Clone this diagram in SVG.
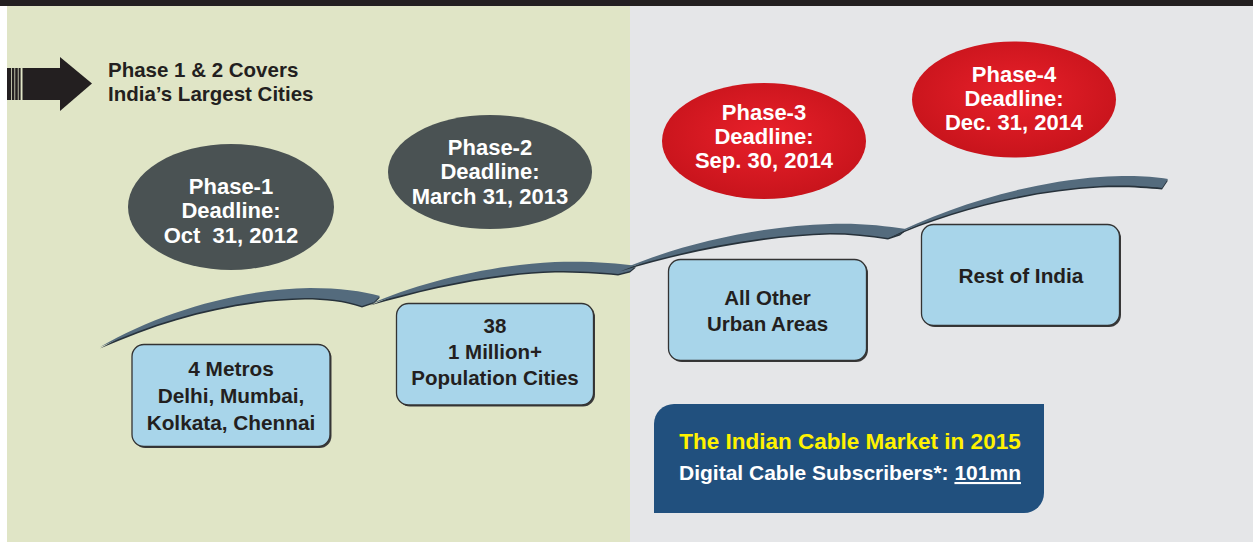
<svg xmlns="http://www.w3.org/2000/svg" width="1253" height="542" viewBox="0 0 1253 542">
<defs>
<radialGradient id="redg" cx="50%" cy="45%" r="55%">
<stop offset="0" stop-color="#e8202a"/>
<stop offset="1" stop-color="#c8141c"/>
</radialGradient>
<style>
.t{font-family:"Liberation Sans",Arial,Helvetica,sans-serif;font-weight:bold;text-anchor:middle}
.dk{fill:#231f20}
.wh{fill:#ffffff}
.ell{fill:#4a5253}
.red{fill:url(#redg)}
.box{fill:#a8d5ea;stroke:#333333;stroke-width:1.3}
.shd{fill:#3a3a3a}
.sw{fill:#546b7d}
.sws{fill:#27323b}
</style>
</defs>
<rect x="0" y="0" width="1253" height="542" fill="#ffffff"/>
<rect x="7" y="6" width="623" height="536" fill="#e0e5c6"/>
<rect x="630" y="6" width="623" height="536" fill="#e5e6e8"/>
<rect x="0" y="0" width="1253" height="6" fill="#231f20"/>

<g id="arrow">
<rect x="7" y="68" width="4" height="32" fill="#231f20"/>
<rect x="11.8" y="68" width="2.6" height="32" fill="#231f20"/>
<rect x="15.2" y="68" width="2.6" height="32" fill="#231f20"/>
<rect x="18.6" y="68" width="2" height="32" fill="#231f20"/>
<rect x="22.5" y="68" width="38.5" height="32" fill="#231f20"/>
<polygon points="60,57 92,83.5 60,111" fill="#231f20"/>
<text class="t dk" x="108" y="77" font-size="20.5" style="text-anchor:start">Phase 1 &amp; 2 Covers</text>
<text class="t dk" x="108" y="101" font-size="20.5" style="text-anchor:start">India’s Largest Cities</text>
</g>

<g id="connectors">
<path class="sws" transform="translate(0,1.6)" d="M100,347 C160,312 240,289 310,288 C340,288 362,291 380,296 L374,302 L362,306 C345,300 325,298 305,298 C235,299 165,318 100,347 Z"/>
<path class="sw" d="M100,347 C160,312 240,289 310,288 C340,288 362,291 380,296 L374,302 L362,306 C345,300 325,298 305,298 C235,299 165,318 100,347 Z"/>
<path class="sws" transform="translate(0,1.6)" d="M370,304 C420,282 490,265 555,262 C590,261 615,263 636,266 L630,271 L618,274 C600,272 578,271 555,271 C490,273 425,288 370,304 Z"/>
<path class="sw" d="M370,304 C420,282 490,265 555,262 C590,261 615,263 636,266 L630,271 L618,274 C600,272 578,271 555,271 C490,273 425,288 370,304 Z"/>
<path class="sws" transform="translate(0,1.6)" d="M620,270 C680,244 760,226 830,224 C860,223 885,226 906,229 L900,234 L888,238 C870,235 850,233 830,233 C760,235 685,250 620,270 Z"/>
<path class="sw" d="M620,270 C680,244 760,226 830,224 C860,223 885,226 906,229 L900,234 L888,238 C870,235 850,233 830,233 C760,235 685,250 620,270 Z"/>
<path class="sws" transform="translate(0,1.6)" d="M886,238 C950,205 1030,182 1100,177 C1130,175 1150,176 1168,179 L1162,188 C1145,186 1120,185 1100,186 C1030,190 955,208 886,238 Z"/>
<path class="sw" d="M886,238 C950,205 1030,182 1100,177 C1130,175 1150,176 1168,179 L1162,188 C1145,186 1120,185 1100,186 C1030,190 955,208 886,238 Z"/>
</g>

<g id="phase1">
<ellipse class="ell" cx="231" cy="207" rx="103" ry="63"/>
<text class="t wh" font-size="22"><tspan x="231" y="194">Phase-1</tspan><tspan x="231" y="218">Deadline:</tspan><tspan x="231" y="243" xml:space="preserve">Oct  31, 2012</tspan></text>
</g>
<g id="phase2">
<ellipse class="ell" cx="490" cy="172" rx="102" ry="57"/>
<text class="t wh" font-size="22"><tspan x="490" y="155">Phase-2</tspan><tspan x="490" y="179">Deadline:</tspan><tspan x="490" y="204">March 31, 2013</tspan></text>
</g>
<g id="phase3">
<ellipse class="red" cx="764" cy="141" rx="102" ry="58"/>
<text class="t wh" font-size="22"><tspan x="764" y="120">Phase-3</tspan><tspan x="764" y="144">Deadline:</tspan><tspan x="764" y="168">Sep. 30, 2014</tspan></text>
</g>
<g id="phase4">
<ellipse class="red" cx="1014" cy="99.5" rx="102" ry="58"/>
<text class="t wh" font-size="22"><tspan x="1014" y="82">Phase-4</tspan><tspan x="1014" y="106">Deadline:</tspan><tspan x="1014" y="130">Dec. 31, 2014</tspan></text>
</g>

<g id="metros">
<rect class="shd" x="133.5" y="346" width="198" height="102" rx="12"/>
<rect class="box" x="132" y="344.5" width="198" height="102" rx="12"/>
<text class="t dk" font-size="20.8"><tspan x="231" y="376">4 Metros</tspan><tspan x="231" y="403">Delhi, Mumbai,</tspan><tspan x="231" y="430">Kolkata, Chennai</tspan></text>
</g>
<g id="million">
<rect class="shd" x="398" y="305" width="197" height="101.5" rx="12"/>
<rect class="box" x="396.5" y="303.5" width="197" height="101.5" rx="12"/>
<text class="t dk" font-size="20.5"><tspan x="495" y="333">38</tspan><tspan x="495" y="359">1 Million+</tspan><tspan x="495" y="385">Population Cities</tspan></text>
</g>
<g id="urban">
<rect class="shd" x="670" y="261" width="198" height="101" rx="12"/>
<rect class="box" x="668.5" y="259.5" width="198" height="101" rx="12"/>
<text class="t dk" font-size="20.5"><tspan x="767.5" y="305">All Other</tspan><tspan x="767.5" y="331">Urban Areas</tspan></text>
</g>
<g id="rest">
<rect class="shd" x="923" y="226" width="198" height="101" rx="12"/>
<rect class="box" x="921.5" y="224.5" width="198" height="101" rx="12"/>
<text class="t dk" font-size="20.8" x="1021" y="283">Rest of India</text>
</g>

<g id="market">
<path d="M654,424 A20,20 0 0 1 674,404 L1044,404 L1044,493 A20,20 0 0 1 1024,513 L654,513 Z" fill="#21507e"/>
<text class="t" x="850" y="449" font-size="22.5" fill="#fff200">The Indian Cable Market in 2015</text>
<text class="t wh" x="850" y="480" font-size="21">Digital Cable Subscribers*: <tspan text-decoration="underline">101mn</tspan></text>
</g>
</svg>
